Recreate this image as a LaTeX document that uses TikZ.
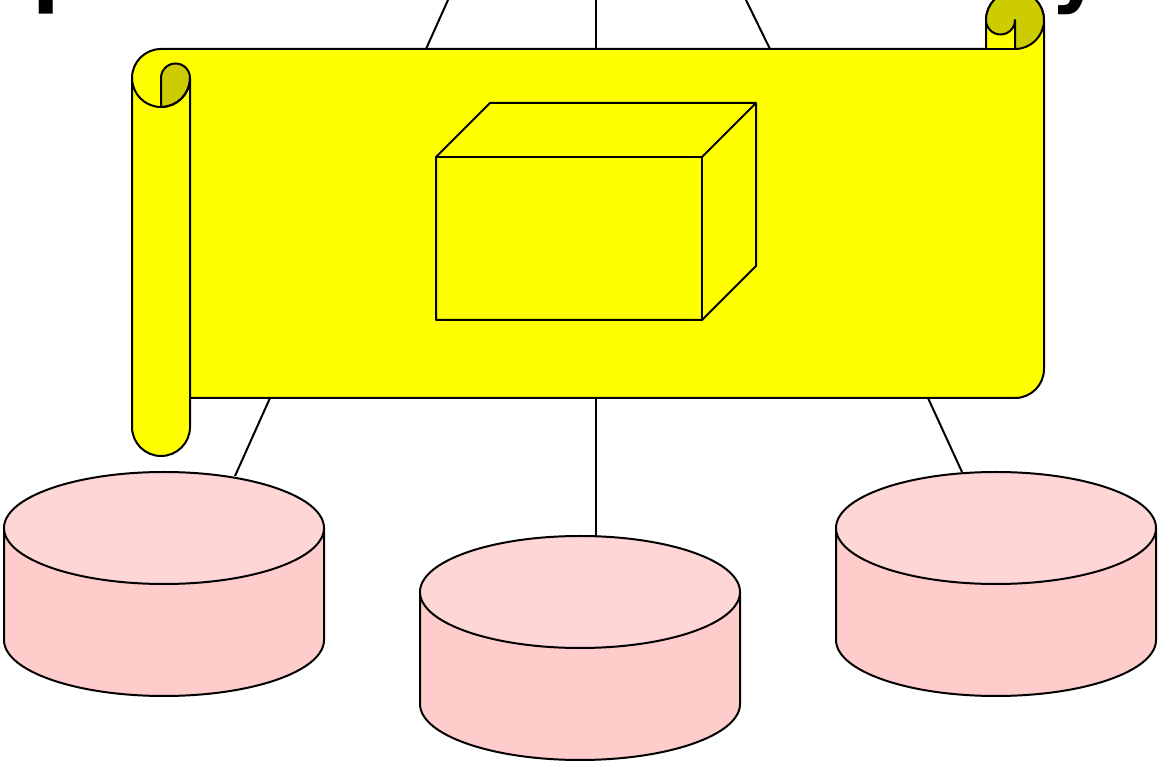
\documentclass[tikz,border=0pt]{standalone}
\usepackage{fontspec}
\setmainfont{DejaVu Sans}
\definecolor{scrollY}{HTML}{FFFF00}
\definecolor{scrollD}{HTML}{CCCC00}
\definecolor{cylBody}{HTML}{FFCCCC}
\definecolor{cylTop}{HTML}{FFD6D6}
\tikzset{
  px/.style={x=0.75pt,y=-0.75pt},
  ink/.style={draw=black,line width=1.5pt,line join=round},
  link/.style={draw=black,line width=1.5pt},
  clipped/.style={inner sep=0pt,outer sep=0pt,anchor=base west,font=\bfseries\fontsize{60}{60}\selectfont},
}
\newcommand{\drum}[2]{%
  \path[ink,fill=cylBody] (#1-160,#2) -- (#1-160,#2+112) arc[start angle=180,end angle=360,x radius=160,y radius=-56] -- (#1+160,#2) -- cycle;
  \path[ink,fill=cylTop] (#1,#2) ellipse[x radius=160,y radius=56];
}
\begin{document}
\begin{tikzpicture}[px]
\useasboundingbox (0,0) rectangle (1158,762);
\clip (0,0) rectangle (1158,762);
% cut-off lettering
\node[clipped] (ltrP) at (32,-2) {p};
\node[clipped] (ltrY) at (1050,-2) {y};
% connector ends
\coordinate (tl) at (448,0);
\coordinate (tm) at (596,0);
\coordinate (tr) at (746,0);
\coordinate (stl) at (426,49);
\coordinate (stm) at (596,49);
\coordinate (str) at (770,49);
\coordinate (sbl) at (270,398);
\coordinate (sbm) at (596,398);
\coordinate (sbr) at (928,398);
\coordinate (dl) at (235,476);
\coordinate (dm) at (596,536);
\coordinate (dr) at (962,472);
\draw[link] (tl) -- (stl);
\draw[link] (tm) -- (stm);
\draw[link] (tr) -- (str);
\draw[link] (sbl) -- (dl);
\draw[link] (sbm) -- (dm);
\draw[link] (sbr) -- (dr);
% scroll body
\path[ink,fill=scrollY] (132,78) arc[start angle=180,end angle=90,x radius=29,y radius=-29]
  -- (986,49) -- (986,20) arc[start angle=180,end angle=0,x radius=29,y radius=-29]
  -- (1044,369) arc[start angle=0,end angle=-90,x radius=29,y radius=-29]
  -- (190,398) -- (190,427) arc[start angle=0,end angle=-180,x radius=29,y radius=-29]
  -- cycle;
% left curl
\path[ink,fill=scrollD] (161,78) arc[start angle=180,end angle=0,x radius=14.5,y radius=-14.5]
  arc[start angle=0,end angle=-90,x radius=29,y radius=-29] -- cycle;
\path[ink] (132,78) arc[start angle=180,end angle=360,x radius=29,y radius=-29] -- (190,398);
% right curl
\path[ink,fill=scrollD] (986,20) arc[start angle=180,end angle=0,x radius=29,y radius=-29]
  arc[start angle=0,end angle=-90,x radius=29,y radius=-29] -- (1015,20)
  arc[start angle=0,end angle=-180,x radius=14.5,y radius=-14.5] -- cycle;
\path[ink] (986,20) -- (986,49) -- (1015,49);
% box
\path[ink,fill=scrollY] (436,157) -- (490,103) -- (756,103) -- (756,266) -- (702,320) -- (436,320) -- cycle;
\path[ink] (436,157) -- (702,157) -- (702,320);
\path[ink] (702,157) -- (756,103);
% drums
\drum{164}{528}
\drum{580}{592}
\drum{996}{528}
\end{tikzpicture}
\end{document}
